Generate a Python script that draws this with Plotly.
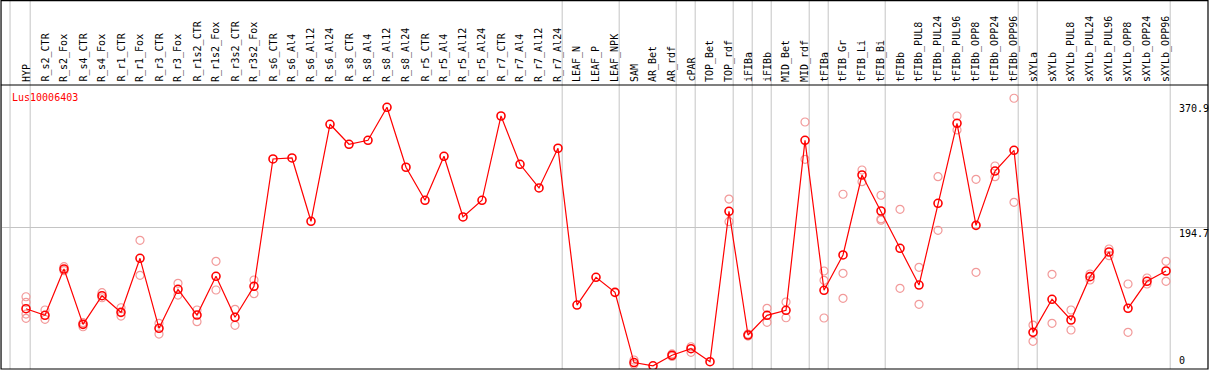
import plotly.graph_objects as go

title = "Lus10006403"

categories = [
    "HYP", "R_s2_CTR", "R_s2_Fox", "R_s4_CTR", "R_s4_Fox", "R_r1_CTR", "R_r1_Fox",
    "R_r3_CTR", "R_r3_Fox", "R_r1s2_CTR", "R_r1s2_Fox", "R_r3s2_CTR", "R_r3s2_Fox",
    "R_s6_CTR", "R_s6_Al4", "R_s6_Al12", "R_s6_Al24", "R_s8_CTR", "R_s8_Al4",
    "R_s8_Al12", "R_s8_Al24", "R_r5_CTR", "R_r5_Al4", "R_r5_Al12", "R_r5_Al24",
    "R_r7_CTR", "R_r7_Al4", "R_r7_Al12", "R_r7_Al24", "LEAF_N", "LEAF_P", "LEAF_NPK",
    "SAM", "AR_Bet", "AR_rdf", "cPAR", "TOP_Bet", "TOP_rdf", "iFIBa", "iFIBb",
    "MID_Bet", "MID_rdf", "tFIBa", "tFIB_Gr", "tFIB_Li", "tFIB_Bi", "tFIBb",
    "tFIBb_PUL8", "tFIBb_PUL24", "tFIBb_PUL96", "tFIBb_OPP8", "tFIBb_OPP24",
    "tFIBb_OPP96", "sXYLa", "sXYLb", "sXYLb_PUL8", "sXYLb_PUL24", "sXYLb_PUL96",
    "sXYLb_OPP8", "sXYLb_OPP24", "sXYLb_OPP96",
]

mean_values = [
    80.8, 71.5, 136.8, 58.8, 99.2, 75.7, 151.9,
    53.2, 108.2, 71.9, 126.5, 68.7, 112.4,
    292.0, 293.4, 204.1, 340.9, 312.7, 318.3,
    364.9, 280.3, 233.7, 295.8, 210.2, 233.7,
    352.6, 284.5, 251.1, 307.1, 86.0, 125.1, 103.9,
    4.9, 0.3, 15.2, 24.4, 6.1, 218.2, 43.7, 71.5,
    78.6, 318.3, 106.8, 156.6, 269.4, 218.6, 166.0,
    114.2, 229.5, 342.3, 198.4, 275.0,
    304.2, 47.5, 94.1, 64.9, 126.0, 160.8,
    81.4, 119.5, 134.0,
]

replicate_values = [
    [97.7, 89.8, 73.3, 67.3], [79.0, 65.9], [140.1, 134.4], [61.1, 55.4], [103.4, 96.3],
    [82.2, 70.5], [177.3, 127.9],
    [60.2, 45.1], [116.6, 100.1], [79.0, 62.5], [147.7, 107.2], [80.0, 57.4], [121.3, 102.0],
    [], [], [], [], [], [],
    [], [], [], [], [], [],
    [], [], [], [], [], [], [],
    [8.5, 2.4], [], [17.0, 13.5], [27.2, 19.3], [], [235.5, 203.5], [45.1, 42.3], [81.4, 61.6],
    [90.3, 68.1], [344.1, 291.5], [134.0, 120.9, 67.7], [242.2, 130.7, 95.5], [276.4, 259.9],
    [240.8, 207.5, 205.6], [221.0, 109.6],
    [139.2, 87.0], [267.0, 191.4], [352.6, 332.9], [263.3, 132.2], [282.1, 267.0],
    [377.6, 230.9], [57.8, 34.8], [129.3, 60.2], [79.0, 50.8], [129.8, 121.3], [165.0, 155.6],
    [115.7, 47.5], [124.1, 115.7], [147.7, 119.5],
]

# Categories after which a grey group divider is drawn (None = before the first)
divider_after = [None, "HYP", "R_r7_Al24", "LEAF_NPK", "AR_rdf", "cPAR", "TOP_rdf",
                 "iFIBa", "iFIBb", "MID_rdf", "tFIBa", "tFIB_Bi", "tFIBb_OPP96",
                 "sXYLa", "sXYLb_OPP96"]

scale_labels = ["370.9", "194.7", "0"]
scale_values = [370.9, 194.7, 0]

RED = "#ff0000"
PINK = "#f29a9a"
GREY = "#c4c4c4"
FONT = "DejaVu Sans Mono"

x_range = [-1.263, 62.21]
y_range = [-4.2, 396.3]
TOP_PAPER = 1 + 85 / 284  # top of the figure in paper units

rep_x, rep_y = [], []
for c, reps in zip(categories, replicate_values):
    for v in reps:
        rep_x.append(c)
        rep_y.append(v)

fig = go.Figure()
fig.add_trace(go.Scatter(
    x=rep_x, y=rep_y, mode="markers",
    marker=dict(symbol="circle-open", size=8, color=PINK, line=dict(width=1.2, color=PINK)),
    hoverinfo="skip", showlegend=False,
))
fig.add_trace(go.Scatter(
    x=categories, y=mean_values, mode="lines+markers",
    line=dict(color=RED, width=1.2),
    marker=dict(symbol="circle-open", size=8, color=RED, line=dict(width=1.6, color=RED)),
    showlegend=False,
))

shapes = []
for name in divider_after:
    idx = -1 if name is None else categories.index(name)
    xpos = idx + (0.16 if name is None else 0.22)
    shapes.append(dict(type="line", xref="x", yref="paper", x0=xpos, x1=xpos,
                       y0=0, y1=TOP_PAPER, line=dict(color=GREY, width=1), layer="below"))
# horizontal separator between labels and plot, and outer frame
shapes.append(dict(type="line", xref="paper", yref="paper", x0=-0.001, x1=1.0,
                   y0=1.0, y1=1.0, line=dict(color="black", width=1.2)))
shapes.append(dict(type="rect", xref="paper", yref="paper", x0=-0.0008, x1=1.0,
                   y0=0.0, y1=TOP_PAPER - 0.002, line=dict(color="black", width=1.2)))

annotations = []
for i, c in enumerate(categories):
    annotations.append(dict(
        x=i, y=1.0, xref="x", yref="paper", text=c, showarrow=False,
        textangle=-90, xanchor="center", yanchor="bottom", yshift=1,
        font=dict(family=FONT, size=10, color="black"),
    ))
annotations.append(dict(
    x=(10 - 2) / 1206, y=(369 - 97) / 284, xref="paper", yref="paper", text=title,
    showarrow=False, xanchor="left", yanchor="middle",
    font=dict(family=FONT, size=10, color=RED),
))
label_x = (1177 - 2) / 1206
for lab, val in zip(scale_labels, scale_values):
    if val == 0:
        annotations.append(dict(x=label_x, y=0, xref="paper", yref="paper", text=lab,
                                showarrow=False, xanchor="left", yanchor="bottom", yshift=1,
                                font=dict(family=FONT, size=10, color="black")))
    else:
        annotations.append(dict(x=label_x, y=val, xref="paper", yref="y", text=lab,
                                showarrow=False, xanchor="left", yanchor="top", yshift=2,
                                font=dict(family=FONT, size=10, color="black")))

fig.update_layout(
    width=1209, height=370,
    margin=dict(l=2, r=1, t=85, b=1),
    paper_bgcolor="white", plot_bgcolor="white",
    shapes=shapes, annotations=annotations,
    xaxis=dict(type="category", categoryorder="array", categoryarray=categories,
               range=x_range, showticklabels=False, showgrid=False, zeroline=False,
               showline=False, ticks=""),
    yaxis=dict(range=y_range, tickvals=[194.7], showticklabels=False, showgrid=True,
               gridcolor=GREY, gridwidth=1, zeroline=False, showline=False, ticks=""),
)

fig.write_html(
    "out.html",
    config={"displayModeBar": False},
    post_script="document.body.style.margin='0px';document.body.style.overflow='hidden';",
)
